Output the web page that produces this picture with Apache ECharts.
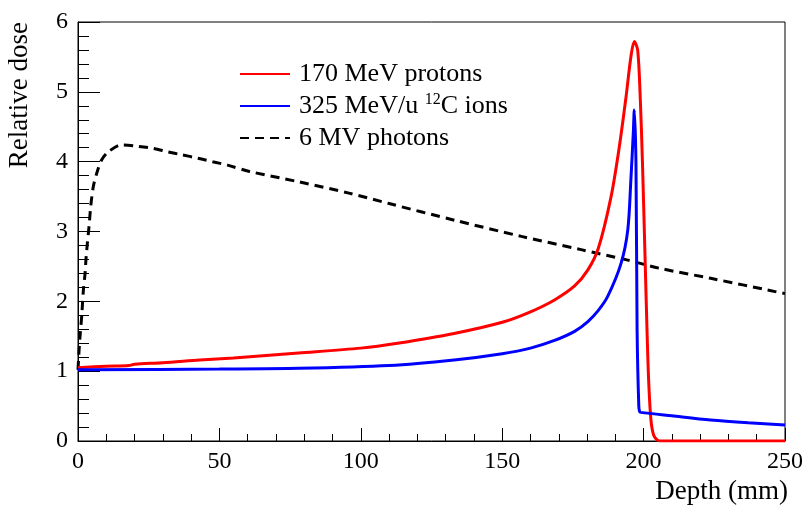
<!DOCTYPE html>
<html>
<head>
<meta charset="utf-8">
<script src="https://cdn.jsdelivr.net/npm/echarts@6/dist/echarts.min.js"></script>
<style>
body{margin:0;background:#fff}
#main{width:806px;height:505px}
</style>
</head>
<body>
<div id="main"></div>
<script>
// 数据
var protonDepth = [0, 10, 18, 20, 30, 43, 55, 78, 100, 113, 133, 150, 160, 168.5, 175.6, 180.3, 184, 188.5, 191.4, 193.8, 195.5, 196.7, 197.9, 198.8, 199.6, 200.5, 201.2, 201.8, 202.6, 203.6, 205, 206, 250]
var protonDose = [1.05, 1.07, 1.08, 1.10, 1.12, 1.16, 1.19, 1.26, 1.33, 1.40, 1.54, 1.70, 1.85, 2.02, 2.22, 2.45, 2.76, 3.50, 4.21, 4.93, 5.50, 5.72, 5.60, 4.93, 3.98, 2.65, 1.60, 0.85, 0.30, 0.08, 0.01, 0, 0]

var carbonDepth = [0, 50, 78, 110, 133, 150, 160, 168.5, 175.6, 180.3, 184, 187.3, 192, 194.4, 195.5, 196.4, 196.7, 197.3, 197.7, 198.3, 198.6, 199, 210, 223.7, 237, 250]
var carbonDose = [1.02, 1.03, 1.04, 1.08, 1.16, 1.25, 1.33, 1.44, 1.57, 1.71, 1.87, 2.07, 2.54, 3.02, 3.74, 4.45, 4.74, 3.98, 1.59, 0.50, 0.42, 0.41, 0.36, 0.30, 0.26, 0.23]

var photonDepth = [0, 0.35, 0.7, 1.3, 1.9, 2.5, 2.8, 3.3, 3.9, 4.5, 5.4, 6.6, 8.3, 10.7, 15.4, 21.2, 26.5, 31.8, 36.5, 42.4, 47.6, 52.9, 60.6, 78.2, 95.8, 110, 133.3, 156.8, 177.9, 194.4, 206, 223.7, 250]
var photonDose = [1.02, 1.28, 1.49, 1.78, 2.16, 2.40, 2.59, 2.83, 3.07, 3.36, 3.64, 3.83, 4.02, 4.14, 4.24, 4.22, 4.19, 4.14, 4.10, 4.05, 4.00, 3.95, 3.86, 3.71, 3.55, 3.40, 3.16, 2.93, 2.74, 2.59, 2.47, 2.33, 2.11]

var seriesNames = ['170 MeV protons', '325 MeV/u 12C ions', '6 MV photons']
var xTitle = 'Depth (mm)'
var yTitle = 'Relative dose'

var font = 'Liberation Serif'

function pairs(xs, ys){
	var out = []
	for (var k = 0; k < xs.length; k++) {
		out.push([xs[k], ys[k]])
	}
	return out
}

var chart = echarts.init(document.getElementById('main'))

var option = {
	animation: false,
	grid: {
		left: 78, right: 18, top: 22, bottom: 64,
		show: true, borderColor: '#000', borderWidth: 1
	},
	legend: {
		orient: 'vertical',
		left: 234, top: 55,
		itemWidth: 50, itemHeight: 18, itemGap: 4,
		itemStyle: {color: 'rgba(0,0,0,0)', borderColor: 'rgba(0,0,0,0)', borderWidth: 0},
		textStyle: {
			fontFamily: font, fontSize: 26, color: '#000', lineHeight: 28, padding: [0, 0, 0, 4],
			rich: {
				sup: {fontFamily: font, fontSize: 16, color: '#000', verticalAlign: 'top', lineHeight: 28}
			}
		},
		formatter: function(name){
			if (name == seriesNames[1]) {
				return '325 MeV/u {sup|12}C ions'
			}
			return name
		},
		data: seriesNames
	},
	xAxis: {
		type: 'value', min: 0, max: 250, interval: 50,
		axisLine: {lineStyle: {color: '#000', width: 1}},
		axisTick: {inside: true, length: 13, lineStyle: {color: '#000'}},
		minorTick: {show: true, splitNumber: 5, length: 7, lineStyle: {color: '#000'}},
		splitLine: {show: false},
		axisLabel: {fontFamily: font, fontSize: 24, color: '#000', margin: 9}
	},
	yAxis: {
		type: 'value', min: 0, max: 6, interval: 1,
		axisLine: {show: true, lineStyle: {color: '#000', width: 1}},
		axisTick: {show: true, inside: true, length: 22, lineStyle: {color: '#000'}},
		minorTick: {show: true, splitNumber: 5, length: 11, lineStyle: {color: '#000'}},
		splitLine: {show: false},
		axisLabel: {fontFamily: font, fontSize: 24, color: '#000', margin: 10}
	},
	graphic: [
		{
			type: 'text', x: 20, y: 22, rotation: Math.PI / 2,
			style: {text: yTitle, font: '27px "Liberation Serif"', fill: '#000', align: 'right', verticalAlign: 'middle'}
		},
		{
			type: 'text', x: 788, y: 492,
			style: {text: xTitle, font: '27px "Liberation Serif"', fill: '#000', align: 'right', verticalAlign: 'middle'}
		}
	],
	series: [
		{
			name: seriesNames[0], type: 'line', symbol: 'none', z: 3,
			smooth: 0.3,
			lineStyle: {color: '#ff0000', width: 3},
			itemStyle: {color: '#ff0000'},
			data: pairs(protonDepth, protonDose)
		},
		{
			name: seriesNames[1], type: 'line', symbol: 'none', z: 4,
			smooth: 0.3,
			lineStyle: {color: '#0000ff', width: 3},
			itemStyle: {color: '#0000ff'},
			data: pairs(carbonDepth, carbonDose)
		},
		{
			name: seriesNames[2], type: 'line', symbol: 'none', z: 2,
			smooth: 0.3,
			lineStyle: {color: '#000', width: 3, type: [9, 6]},
			itemStyle: {color: '#000'},
			data: pairs(photonDepth, photonDose)
		}
	]
}
chart.setOption(option)
</script>
</body>
</html>
